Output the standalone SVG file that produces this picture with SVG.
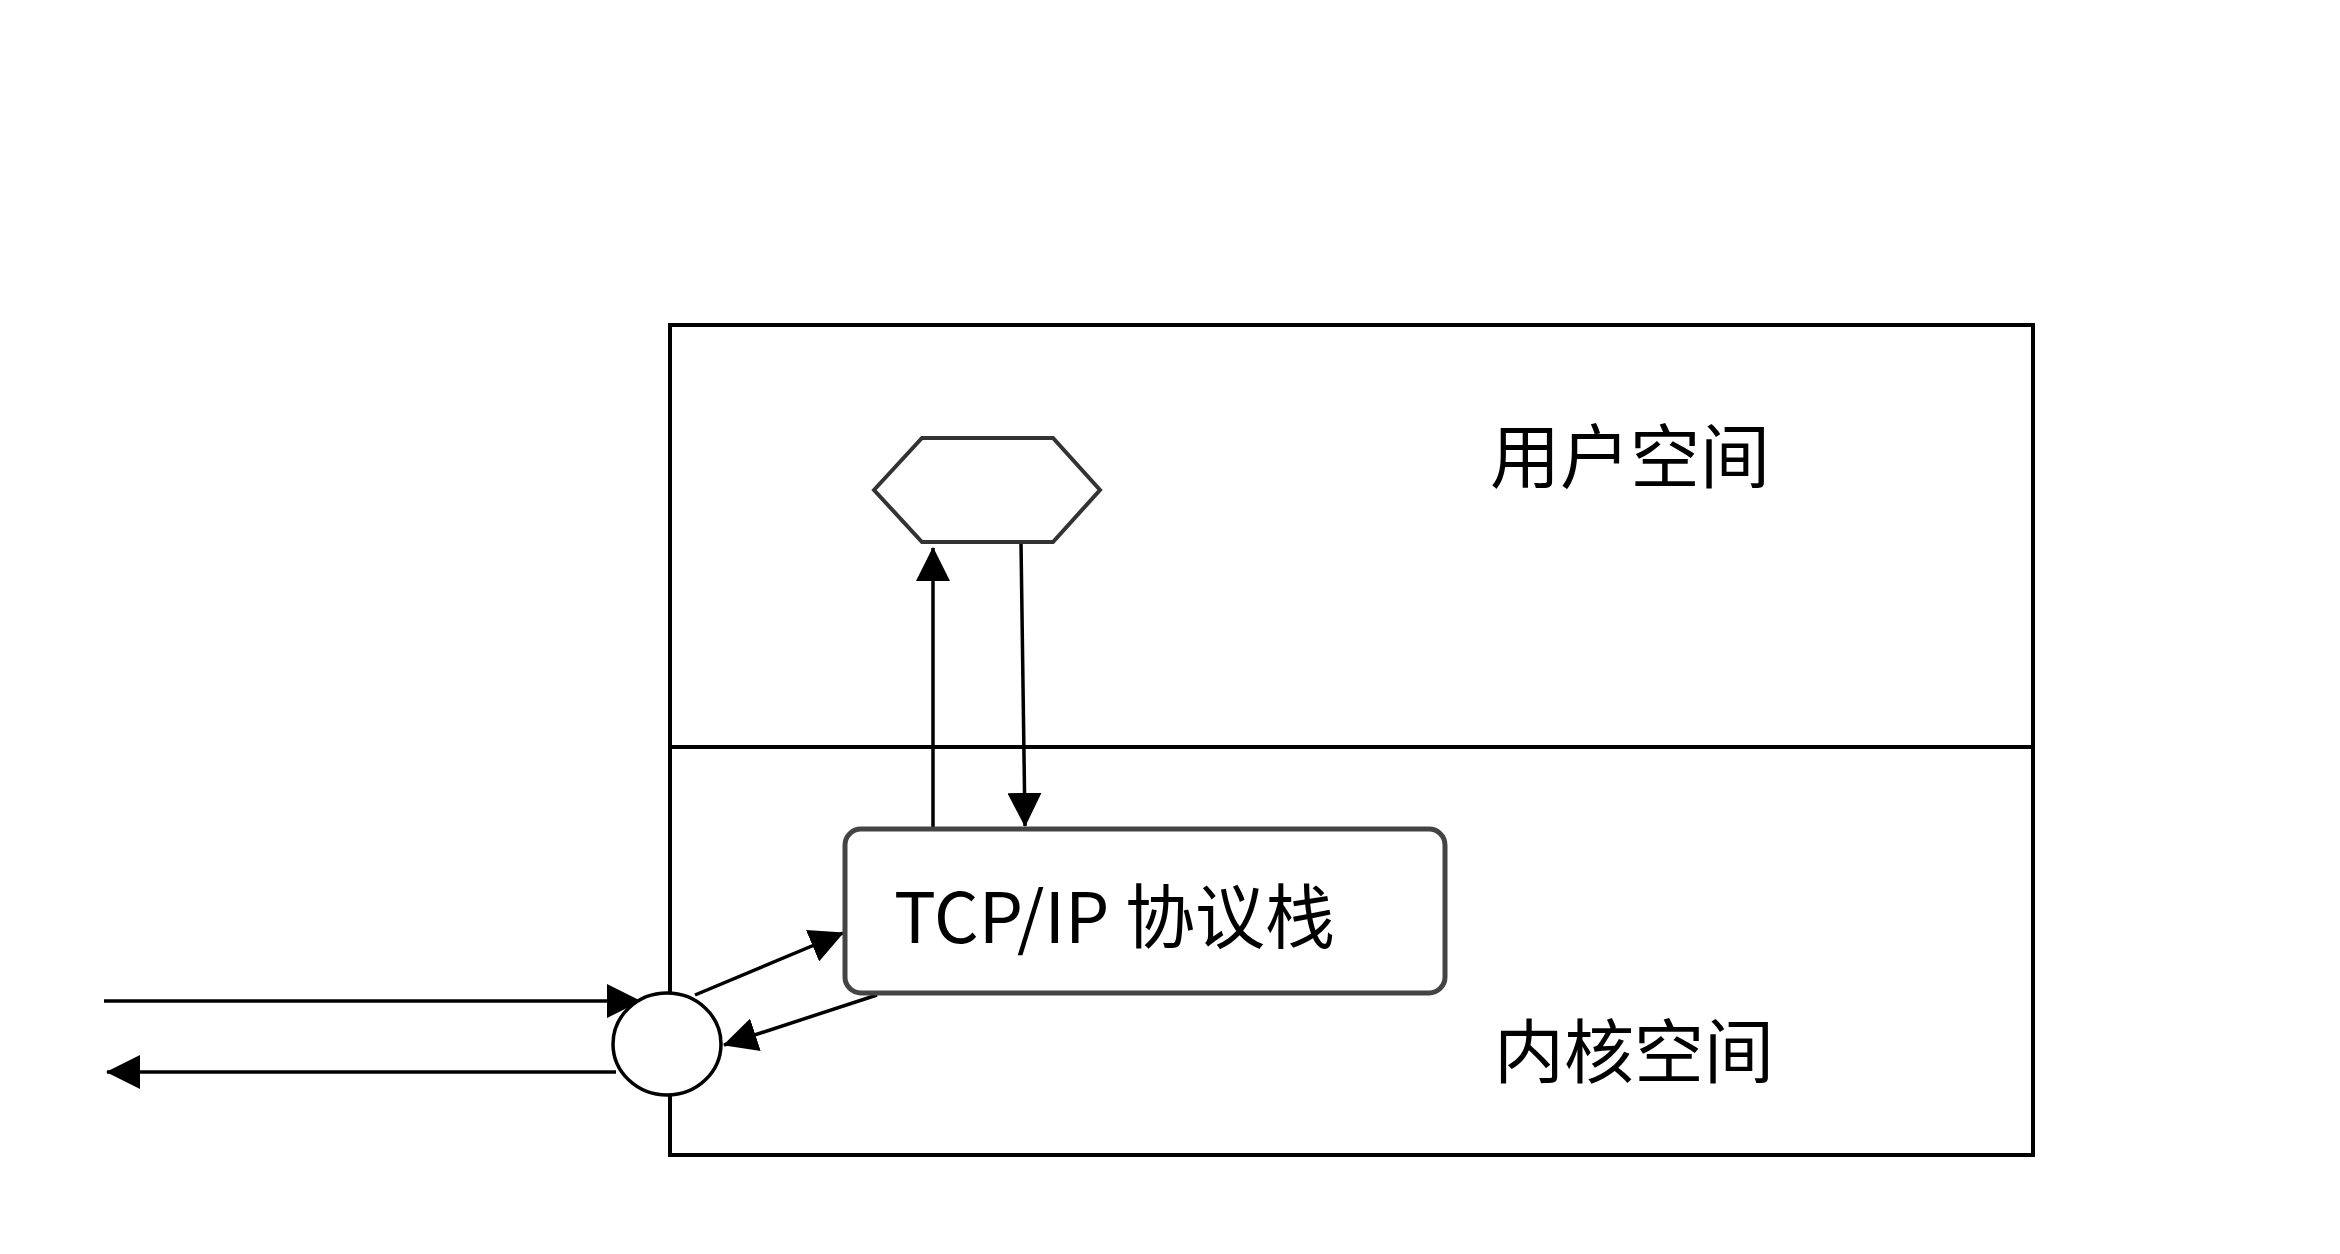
<svg xmlns="http://www.w3.org/2000/svg" width="2340" height="1254" viewBox="0 0 2340 1254">
<style>
  .frame{fill:none;stroke:#000;stroke-width:4}
  .conn{fill:none;stroke:#000;stroke-width:3.5}
  .lbl{font-family:"Noto Sans CJK SC","Liberation Sans",sans-serif;font-size:70px;fill:#000}
</style>
<defs>
  <marker id="ah" viewBox="0 0 34 34" refX="33" refY="17" markerWidth="34" markerHeight="34" markerUnits="userSpaceOnUse" orient="auto">
    <path d="M0,0 L34,17 L0,34 z" fill="#000"/>
  </marker>
</defs>
<rect width="2340" height="1254" fill="#fff"/>
<g id="frame">
  <rect class="frame" x="670" y="325" width="1363" height="830"/>
  <line class="frame" x1="670" y1="747" x2="2033" y2="747"/>
</g>
<g id="label-user"><text class="lbl" x="1490" y="483">用户空间</text></g>
<g id="label-kernel"><text class="lbl" x="1494" y="1078">内核空间</text></g>
<g id="connectors">
  <line class="conn" x1="933" y1="830" x2="933" y2="548" marker-end="url(#ah)"/>
  <line class="conn" x1="1021" y1="543" x2="1025" y2="826" marker-end="url(#ah)"/>
  <line class="conn" x1="695" y1="995" x2="843" y2="933" marker-end="url(#ah)"/>
  <line class="conn" x1="877" y1="995" x2="724" y2="1045" marker-end="url(#ah)"/>
  <line class="conn" x1="104" y1="1001" x2="640" y2="1001" marker-end="url(#ah)"/>
  <line class="conn" x1="616" y1="1072" x2="107" y2="1072" marker-end="url(#ah)"/>
</g>
<g id="app">
  <polygon points="874,490 922,438 1053,438 1100,490 1053,542 922,542" fill="#fff" stroke="#333" stroke-width="4"/>
</g>
<g id="tcpip">
  <rect x="845" y="829" width="600" height="164" rx="16" ry="16" fill="#fff" stroke="#444" stroke-width="5"/>
  <text class="lbl" x="894" y="943">TCP/IP 协议栈</text>
</g>
<g id="nic">
  <ellipse cx="667" cy="1044" rx="54" ry="51" fill="#fff" stroke="#000" stroke-width="3.5"/>
</g>
</svg>
